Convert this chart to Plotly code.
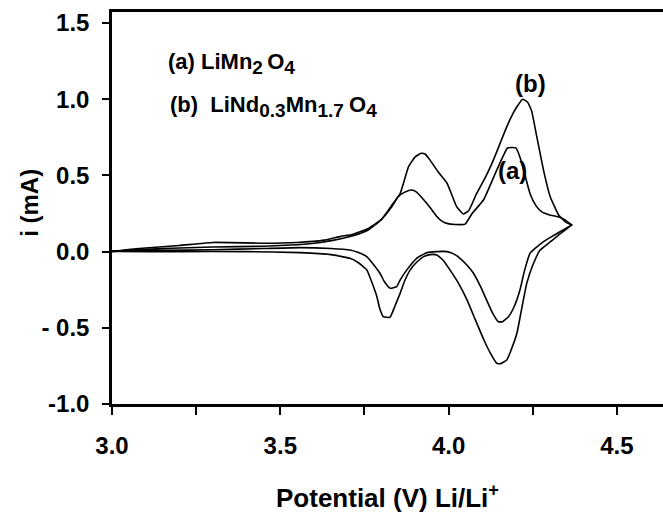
import plotly.graph_objects as go

# Curve (a) LiMn2O4 : anodic sweep then cathodic sweep (potential V, current mA)
a_anodic_v = [3.00, 3.05, 3.15, 3.30, 3.45, 3.55, 3.62, 3.66, 3.71, 3.76, 3.80, 3.83, 3.85, 3.87, 3.89,
              3.905, 3.926, 3.945, 3.965, 3.98, 3.995, 4.02, 4.049, 4.07, 4.104, 4.143, 4.165, 4.175,
              4.20, 4.215, 4.242, 4.26, 4.277, 4.30, 4.322, 4.345, 4.366]
a_anodic_i = [0.00, 0.01, 0.02, 0.03, 0.035, 0.045, 0.06, 0.075, 0.10, 0.14, 0.21, 0.29, 0.36, 0.39, 0.404,
              0.39, 0.34, 0.29, 0.23, 0.20, 0.185, 0.178, 0.18, 0.25, 0.34, 0.535, 0.64, 0.68,
              0.68, 0.60, 0.38, 0.30, 0.26, 0.24, 0.23, 0.21, 0.175]
a_cathodic_v = [4.366, 4.331, 4.30, 4.282, 4.262, 4.242, 4.225, 4.212, 4.195, 4.178, 4.160, 4.148, 4.130,
                4.113, 4.095, 4.074, 4.055, 4.034, 4.015, 3.995, 3.965, 3.935, 3.905, 3.876, 3.855,
                3.846, 3.826, 3.81, 3.796, 3.775, 3.757, 3.73, 3.707, 3.65, 3.559, 3.45, 3.30, 3.15, 3.00]
a_cathodic_i = [0.175, 0.13, 0.09, 0.065, 0.03, -0.011, -0.13, -0.252, -0.36, -0.427, -0.46, -0.46, -0.40,
                -0.318, -0.23, -0.142, -0.09, -0.044, -0.015, 0.0, 0.0, -0.007, -0.044, -0.12, -0.19,
                -0.23, -0.24, -0.20, -0.142, -0.08, -0.033, -0.005, 0.01, 0.02, 0.026, 0.02, 0.012, 0.008, 0.005]

# Curve (b) LiNd0.3Mn1.7O4
b_anodic_v = [3.00, 3.08, 3.20, 3.30, 3.45, 3.55, 3.63, 3.68, 3.71, 3.76, 3.80, 3.83, 3.856, 3.881, 3.90,
              3.918, 3.93, 3.945, 3.97, 3.995, 4.01, 4.024, 4.044, 4.06, 4.083, 4.11, 4.133, 4.153,
              4.173, 4.19, 4.203, 4.22, 4.235, 4.247, 4.262, 4.282, 4.302, 4.327, 4.35, 4.366]
b_anodic_i = [0.00, 0.02, 0.04, 0.06, 0.055, 0.06, 0.075, 0.10, 0.11, 0.15, 0.21, 0.30, 0.38, 0.557, 0.62,
              0.645, 0.64, 0.60, 0.52, 0.45, 0.37, 0.295, 0.247, 0.27, 0.38, 0.49, 0.60, 0.71,
              0.82, 0.90, 0.95, 1.00, 0.98, 0.92, 0.754, 0.535, 0.36, 0.24, 0.19, 0.175]
b_cathodic_v = [4.366, 4.345, 4.321, 4.30, 4.272, 4.25, 4.232, 4.215, 4.203, 4.185, 4.173, 4.155, 4.143,
                4.125, 4.105, 4.08, 4.055, 4.03, 4.004, 3.985, 3.965, 3.945, 3.926, 3.905, 3.886, 3.87,
                3.856, 3.84, 3.826, 3.806, 3.795, 3.787, 3.77, 3.757, 3.73, 3.707, 3.65, 3.559, 3.40,
                3.20, 3.00]
b_cathodic_i = [0.175, 0.14, 0.098, 0.06, 0.01, -0.09, -0.21, -0.40, -0.536, -0.65, -0.711, -0.735, -0.733,
                -0.67, -0.58, -0.45, -0.318, -0.21, -0.12, -0.06, -0.022, -0.02, -0.033, -0.07, -0.12, -0.19,
                -0.274, -0.36, -0.431, -0.427, -0.37, -0.296, -0.19, -0.12, -0.07, -0.044, -0.02, -0.007, 0.0,
                0.0, 0.0]

x_tickvals = [3.0, 3.25, 3.5, 3.75, 4.0, 4.25, 4.5]
x_ticktext = ["3.0", "", "3.5", "", "4.0", "", "4.5"]
y_tickvals = [-1.0, -0.5, 0.0, 0.5, 1.0, 1.5]
y_ticktext = ["-1.0", "- 0.5", "0.0", "0.5", "1.0", "1.5"]

FONT = "Liberation Sans, Arial, sans-serif"
line_style = dict(color="black", width=1.6, shape="spline", smoothing=0.4)

fig = go.Figure()
fig.add_trace(go.Scatter(x=a_anodic_v + a_cathodic_v, y=a_anodic_i + a_cathodic_i,
                         mode="lines", line=line_style, name="(a) LiMn2O4", hoverinfo="skip"))
fig.add_trace(go.Scatter(x=b_anodic_v + b_cathodic_v, y=b_anodic_i + b_cathodic_i,
                         mode="lines", line=line_style, name="(b) LiNd0.3Mn1.7O4", hoverinfo="skip"))

tick_font = dict(family=FONT, size=24, color="black", weight="bold")
fig.update_layout(
    width=663, height=514,
    margin=dict(l=112, r=0, t=12, b=110),
    paper_bgcolor="white", plot_bgcolor="white",
    showlegend=False,
    font=dict(family=FONT, color="black"),
    xaxis=dict(range=[3.0, 4.637], tickvals=x_tickvals, ticktext=x_ticktext,
               ticks="outside", ticklen=8, tickwidth=2, tickcolor="black",
               showline=True, linecolor="black", linewidth=2.5, mirror=True,
               showgrid=False, zeroline=False, tickfont=tick_font,
               ticklabelstandoff=10),
    yaxis=dict(range=[-1.0, 1.572], tickvals=y_tickvals, ticktext=y_ticktext,
               ticks="outside", ticklen=7, tickwidth=2, tickcolor="black",
               showline=True, linecolor="black", linewidth=2.5, mirror=False,
               showgrid=False, zeroline=False, tickfont=tick_font,
               ticklabelstandoff=8),
)

fig.add_annotation(text="Potential (V) Li/Li<sup>+</sup>", xref="paper", yref="paper",
                   x=0.5, y=-0.235, xanchor="center", yanchor="middle", showarrow=False,
                   font=dict(family=FONT, size=26, color="black", weight="bold"))
fig.add_annotation(text="i (mA)", xref="paper", yref="paper", textangle=-90,
                   x=-0.149, y=0.513, xanchor="center", yanchor="middle", showarrow=False,
                   font=dict(family=FONT, size=24, color="black", weight="bold"))

ann = dict(family=FONT, size=22, color="black", weight="bold")
S = '<span style="font-size:19px">'
fig.add_annotation(text=f"(a) LiMn<sub>{S}2</span> </sub>O<sub>{S}4</span></sub>", x=3.16, y=1.235,
                   xanchor="left", yanchor="middle", showarrow=False, font=ann)
fig.add_annotation(text=f"(b)  LiNd<sub>{S}0.3</span></sub>Mn<sub>{S}1.7 </span></sub>O<sub>{S}4</span></sub>",
                   x=3.166, y=0.955, xanchor="left", yanchor="middle", showarrow=False, font=ann)
fig.add_annotation(text="(b)", x=4.242, y=1.10, showarrow=False,
                   font=dict(family=FONT, size=24, color="black", weight="bold"))
fig.add_annotation(text="(a)", x=4.189, y=0.535, showarrow=False,
                   font=dict(family=FONT, size=24, color="black", weight="bold"))

fig.write_html("out.html", config={"displayModeBar": False},
               post_script="document.body.style.margin='0px';")
